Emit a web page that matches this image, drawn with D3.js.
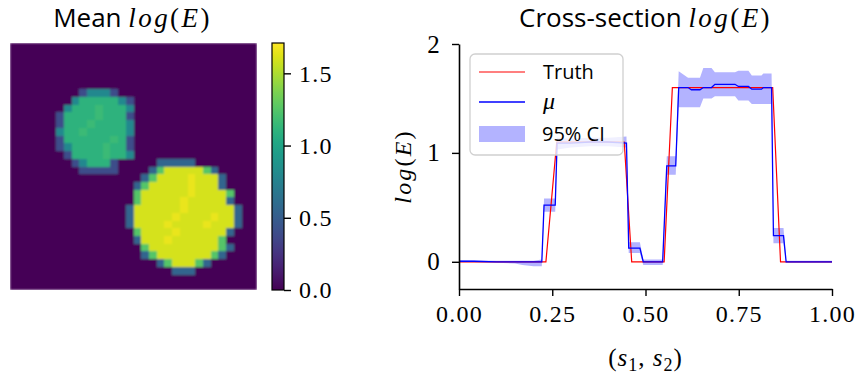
<!DOCTYPE html>
<html>
<head>
<meta charset="utf-8">
<script src="https://cdn.jsdelivr.net/npm/d3@7"></script>
<style>
  body { margin: 0; background: #fff; }
  svg { display: block; }
</style>
</head>
<body>
<script>
// mean log(E) field, 32 x 32 cells, one letter per cell
const cellLevels = { '.': 0.02, a: 0.4, b: 0.8, c: 1.1, h: 1.16, d: 0.55, e: 1.25, f: 1.6, g: 1.65 };
const meanRows = [
  "................................",
  "................................",
  "................................",
  "................................",
  "................................",
  "................................",
  ".........abbba..................",
  "........bcccccba................",
  ".......bccchcccb................",
  "......acccchccca...............",
  "......accchccccb...............",
  "......bcchcccccb...............",
  "......acccccchca...............",
  "......abcccchcca...............",
  ".......acccchccb................",
  "........abccca.....ddddd.......",
  ".........aaaaa....defffffed.....",
  ".................deffffgfffd....",
  "................defffffgfffd...",
  "................effffffgffffe...",
  "................efffffgfffffd..",
  "...............dffffffgffffffd..",
  "...............dfffffgffffgffd..",
  "...............dffffgffffgfffd..",
  "................effffgffffffd..",
  "................dfffgffffffe...",
  ".................efffffffffed...",
  ".................defffffffed....",
  "...................defffed......",
  ".....................ddd........",
  "................................",
  "................................"
];
const cbarTicks = [0.0, 0.5, 1.0, 1.5];

// cross-section along the diagonal
const truthS = [0, 0.233, 0.262, 0.443, 0.463, 0.55, 0.572, 0.841, 0.862, 1];
const truthV = [0, 0, 1.1, 1.1, 0, 0, 1.6, 1.6, 0, 0];

const sVals  = [0, 0.04, 0.1, 0.15, 0.17, 0.2, 0.222, 0.228, 0.258, 0.263, 0.3, 0.35, 0.4, 0.449, 0.455, 0.485, 0.494, 0.546, 0.557, 0.581,
                0.589, 0.614, 0.623, 0.646, 0.655, 0.677, 0.686, 0.74, 0.749, 0.776, 0.785, 0.811, 0.816, 0.838, 0.843, 0.87, 0.877, 0.95, 1];
const muVals = [0.005, 0.005, 0, 0, 0, 0, 0, 0.52, 0.52, 1.09, 1.09, 1.1, 1.1, 1.09, 0.125, 0.125, 0, 0, 0.88, 0.88,
                1.6, 1.6, 1.58, 1.58, 1.6, 1.6, 1.63, 1.63, 1.61, 1.61, 1.585, 1.585, 1.6, 1.6, 0.24, 0.24, 0, 0, 0];
const ciLow  = [-0.005, -0.005, -0.01, -0.015, -0.03, -0.04, -0.04, 0.46, 0.46, 1.03, 1.05, 1.06, 1.06, 1.05, 0.08, 0.08, -0.03, -0.03, 0.8, 0.8,
                1.42, 1.42, 1.42, 1.42, 1.5, 1.5, 1.52, 1.52, 1.48, 1.48, 1.45, 1.45, 1.45, 1.45, 0.17, 0.17, -0.01, -0.01, -0.01];
const ciHigh = [0.015, 0.012, 0.01, 0.01, 0.01, 0.01, 0.02, 0.58, 0.58, 1.14, 1.13, 1.14, 1.14, 1.15, 0.18, 0.18, 0.02, 0.02, 0.97, 0.97,
                1.75, 1.69, 1.69, 1.69, 1.78, 1.78, 1.74, 1.74, 1.755, 1.755, 1.71, 1.71, 1.73, 1.73, 0.31, 0.31, 0.01, 0.01, 0.01];
const xTicks = [0, 0.25, 0.5, 0.75, 1];
const yTicks = [0, 1, 2];

const W = 861, H = 374;
const SANS = '"Open Sans", Lato, sans-serif';
const SERIF = '"Liberation Serif", "Times New Roman", Tinos, "DejaVu Serif", serif';

const svg = d3.select('body').append('svg').attr('width', W).attr('height', H);
const defs = svg.append('defs');

// latex-ish log(E), math italic is spaced out a bit
function logE(t, size) {
  const sp = size * 0.09;
  const add = (txt, it) => t.append('tspan')
    .attr('font-family', SERIF).style('font-family', SERIF).style('font-size', size + 'px')
    .attr('font-style', it ? 'italic' : 'normal')
    .attr('letter-spacing', sp)
    .text(txt);
  add('log', true); add('(', false); add('E', true); add(')', false);
}

function serifTicks(g, size) {
  g.attr('font-family', SERIF);
  g.selectAll('text')
    .attr('font-family', SERIF)
    .style('font-family', SERIF)
    .style('font-size', size + 'px')
    .attr('letter-spacing', 1.2)
    .attr('fill', '#000');
}

// ---------- left: heatmap ----------
const hm = { x: 10, y: 43, size: 247 };
const n = meanRows.length;
const vmax = 1.71;
const color = d3.scaleSequential(d3.interpolateViridis).domain([0, vmax]);
const cx = d3.scaleBand().domain(d3.range(n)).range([hm.x, hm.x + hm.size]);
const cy = d3.scaleBand().domain(d3.range(n)).range([hm.y, hm.y + hm.size]);

const cells = [];
meanRows.forEach((row, r) => {
  const s = row.padEnd(n, '.').slice(0, n);
  for (let c = 0; c < n; c++) cells.push({ r: r, c: c, v: cellLevels[s[c]] });
});

// the picture is a little smoothed, mimic imshow resampling
defs.append('filter').attr('id', 'smooth')
  .attr('x', 0).attr('y', 0).attr('width', 1).attr('height', 1)
  .append('feGaussianBlur').attr('stdDeviation', 1.0).attr('edgeMode', 'duplicate');
defs.append('clipPath').attr('id', 'hmclip')
  .append('rect').attr('x', hm.x).attr('y', hm.y).attr('width', hm.size).attr('height', hm.size);

const px = c => Math.round(cx(c));
const py = r => Math.round(cy(r));
svg.append('g').attr('clip-path', 'url(#hmclip)')
  .append('g').attr('filter', 'url(#smooth)')
  .selectAll('rect')
  .data(cells)
  .enter().append('rect')
  .attr('shape-rendering', 'crispEdges')
  .attr('x', d => px(d.c))
  .attr('y', d => py(d.r))
  .attr('width', d => Math.round(cx(d.c) + cx.bandwidth()) - px(d.c))
  .attr('height', d => Math.round(cy(d.r) + cy.bandwidth()) - py(d.r))
  .attr('fill', d => color(d.v));

svg.append('text')
  .attr('x', hm.x + hm.size / 2 - 1)
  .attr('y', 27)
  .attr('text-anchor', 'middle')
  .call(t => {
    t.append('tspan').style('font-family', SANS).style('font-size', '26px').text('Mean ');
    logE(t, 27);
  });

// colorbar
const cb = { x: 272, w: 12 };
const cbY = d3.scaleLinear().domain([0, vmax]).range([hm.y + hm.size, hm.y]);
const grad = defs.append('linearGradient')
  .attr('id', 'cbgrad').attr('x1', 0).attr('y1', 1).attr('x2', 0).attr('y2', 0);
d3.range(0, 1.0001, 0.05).forEach(t => {
  grad.append('stop').attr('offset', t).attr('stop-color', d3.interpolateViridis(t));
});
svg.append('rect')
  .attr('x', cb.x).attr('y', hm.y)
  .attr('width', cb.w).attr('height', hm.size)
  .attr('fill', 'url(#cbgrad)')
  .attr('stroke', '#000').attr('stroke-width', 1.2);

svg.append('g')
  .attr('transform', `translate(${cb.x + cb.w},0)`)
  .call(d3.axisRight(cbY).tickValues(cbarTicks).tickFormat(d3.format('.1f')).tickSize(7).tickPadding(8))
  .call(g => g.select('.domain').remove())
  .call(g => g.selectAll('line').attr('stroke-width', 1.4))
  .call(g => serifTicks(g, 24));

// ---------- right: cross-section ----------
const x = d3.scaleLinear().domain([0, 1]).range([459, 832]);
const y = d3.scaleLinear().domain([-0.25, 2]).range([289, 44]);

const band = sVals.map((s, i) => ({ s: s, lo: ciLow[i], hi: ciHigh[i], mu: muVals[i] }));
const truth = truthS.map((s, i) => ({ s: s, v: truthV[i] }));

svg.append('path')
  .datum(band)
  .attr('fill', 'rgb(179,179,255)')
  .attr('d', d3.area().x(d => x(d.s)).y0(d => y(d.lo)).y1(d => y(d.hi)));

svg.append('path')
  .datum(truth)
  .attr('fill', 'none').attr('stroke', '#ff0000').attr('stroke-width', 1.2)
  .attr('d', d3.line().x(d => x(d.s)).y(d => y(d.v)));

svg.append('path')
  .datum(band)
  .attr('fill', 'none').attr('stroke', '#0000ff').attr('stroke-width', 1.3)
  .attr('d', d3.line().x(d => x(d.s)).y(d => y(d.mu)));

svg.append('g')
  .attr('transform', 'translate(0,289)')
  .call(d3.axisBottom(x).tickValues(xTicks).tickFormat(d3.format('.2f')).tickSize(7).tickSizeOuter(0).tickPadding(9))
  .call(g => g.select('.domain').attr('stroke-width', 1.6))
  .call(g => g.selectAll('line').attr('stroke-width', 1.4))
  .call(g => serifTicks(g, 24));

svg.append('g')
  .attr('transform', 'translate(459,0)')
  .call(d3.axisLeft(y).tickValues(yTicks).tickFormat(d3.format('d')).tickSize(7).tickSizeOuter(0).tickPadding(11))
  .call(g => g.select('.domain').attr('stroke-width', 1.6))
  .call(g => g.selectAll('line').attr('stroke-width', 1.4))
  .call(g => serifTicks(g, 25));

svg.append('text')
  .attr('x', (x(0) + x(1)) / 2)
  .attr('y', 27)
  .attr('text-anchor', 'middle')
  .call(t => {
    t.append('tspan').style('font-family', SANS).style('font-size', '26px').text('Cross-section ');
    logE(t, 27);
  });

svg.append('text')
  .attr('transform', `translate(411,${(y(-0.25) + y(2)) / 2}) rotate(-90)`)
  .attr('text-anchor', 'middle')
  .call(t => logE(t, 24));

const xl = svg.append('text')
  .attr('x', (x(0) + x(1)) / 2)
  .attr('y', 366)
  .attr('text-anchor', 'middle')
  .attr('font-family', SERIF)
  .style('font-family', SERIF)
  .style('font-size', '25px')
  .attr('letter-spacing', 1);
xl.append('tspan').text('(');
xl.append('tspan').attr('font-style', 'italic').text('s');
xl.append('tspan').attr('dy', 5).style('font-size', '18px').text('1');
xl.append('tspan').attr('dy', -5).text(', ');
xl.append('tspan').attr('font-style', 'italic').text('s');
xl.append('tspan').attr('dy', 5).style('font-size', '18px').text('2');
xl.append('tspan').attr('dy', -5).text(')');

// legend
const lg = svg.append('g').attr('transform', 'translate(470,54)');
lg.append('rect')
  .attr('width', 153).attr('height', 101).attr('rx', 5)
  .attr('fill', '#fff').attr('fill-opacity', 0.8)
  .attr('stroke', '#d0d0d0').attr('stroke-width', 1.3);
lg.append('line').attr('x1', 9).attr('x2', 55).attr('y1', 18).attr('y2', 18)
  .attr('stroke', '#ff0000').attr('stroke-width', 1.2);
lg.append('line').attr('x1', 9).attr('x2', 55).attr('y1', 48).attr('y2', 48)
  .attr('stroke', '#0000ff').attr('stroke-width', 1.3);
lg.append('rect').attr('x', 9).attr('y', 72).attr('width', 46).attr('height', 16)
  .attr('fill', 'rgb(179,179,255)');
lg.append('text').attr('x', 73).attr('y', 25)
  .style('font-family', SANS).style('font-size', '20px').text('Truth');
lg.append('text').attr('x', 73).attr('y', 55)
  .attr('font-family', SERIF).style('font-family', SERIF).style('font-size', '24px')
  .attr('font-style', 'italic').text('μ');
lg.append('text').attr('x', 72).attr('y', 87)
  .style('font-family', SANS).style('font-size', '20px').text('95% CI');
</script>
</body>
</html>
